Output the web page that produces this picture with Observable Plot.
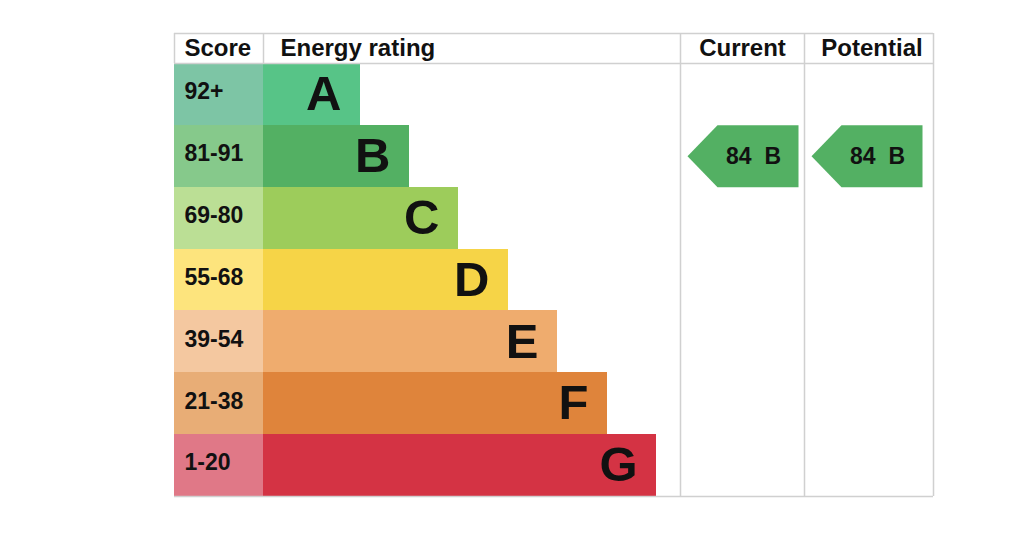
<!DOCTYPE html>
<html><head><meta charset="utf-8">
<script src="https://cdn.jsdelivr.net/npm/d3@7"></script>
<script src="https://cdn.jsdelivr.net/npm/@observablehq/plot@0.6"></script>
<style>html,body{margin:0;padding:0;background:#fff;}</style>
</head><body><div id="chart"></div>
<script>
// ---- data ----
const ratings = ["A","B","C","D","E","F","G"];
const scoreRanges = ["92+","81-91","69-80","55-68","39-54","21-38","1-20"];
const scoreMins = [92,81,69,55,39,21,1];
const barWidths = [97,146,195,245,294,344,393];
const barColors = ["#57c487","#53b063","#9dcc5b","#f6d447","#efac6e","#df843b","#d43344"];
const scoreColors = ["#7dc5a5","#86c98b","#bbdf95","#fde47d","#f4c8a0","#e8ad76","#e07887"];
const headers = ["Score","Energy rating","Current","Potential"];
const currentScore = 84;
const potentialScore = 84;

// ---- layout ----
const W = 1024, H = 538;
const tableLeft = 174, barStart = 263, colCurrent = 680, colPotential = 804, tableRight = 933;
const headerTop = -0.485;
const font = "Liberation Sans, Arial, Helvetica, sans-serif";
const lineColor = "#d0d0d0";

const rows = ratings.map((r, i) => ({
  i, rating: r, range: scoreRanges[i], width: barWidths[i],
  bar: barColors[i], score: scoreColors[i]
}));

const ratingIndex = s => scoreMins.findIndex(m => s >= m);

const arrowCols = [
  {name: "Current", left: colCurrent, value: currentScore},
  {name: "Potential", left: colPotential, value: potentialScore}
];
const arrowPts = [];
const arrowLabels = [];
for (const c of arrowCols) {
  const k = ratingIndex(c.value);
  const tip = c.left + 7, notch = tip + 30, right = tip + 111;
  const pts = [[tip, k + 0.5], [notch, k], [right, k], [right, k + 1], [notch, k + 1]];
  pts.forEach(([x, y]) => arrowPts.push({z: c.name, x, y, color: barColors[k]}));
  arrowLabels.push({x: tip + 64, y: k + 0.5, text: String(c.value), anchor: "end"});
  arrowLabels.push({x: tip + 77, y: k + 0.5, text: ratings[k], anchor: "start"});
}

const headerItems = [
  {text: headers[0], x: tableLeft + 10, anchor: "start"},
  {text: headers[1], x: barStart + 17, anchor: "start"},
  {text: headers[2], x: (colCurrent + colPotential) / 2, anchor: "middle"},
  {text: headers[3], x: (colPotential + tableRight) / 2 + 3, anchor: "middle"}
];

const hRules = [
  {y: headerTop, x1: tableLeft, x2: tableRight},
  {y: 0, x1: tableLeft, x2: tableRight},
  {y: ratings.length, x1: tableLeft, x2: tableRight}
];
const vRules = [
  {x: tableLeft, y1: headerTop, y2: 0},
  {x: barStart, y1: headerTop, y2: 0},
  {x: colCurrent, y1: headerTop, y2: ratings.length},
  {x: colPotential, y1: headerTop, y2: ratings.length},
  {x: tableRight, y1: headerTop, y2: ratings.length}
];

const chart = Plot.plot({
  width: W, height: H,
  marginTop: 0, marginRight: 0, marginBottom: 0, marginLeft: 0,
  style: {background: "#fff", fontFamily: font},
  x: {type: "linear", domain: [0, W], range: [0, W], axis: null},
  y: {type: "linear", domain: [headerTop, ratings.length], range: [33, 496], axis: null},
  marks: [
    Plot.rect(rows, {x1: tableLeft, x2: barStart, y1: d => d.i, y2: d => d.i + 1, fill: d => d.score, shapeRendering: "crispEdges"}),
    Plot.rect(rows, {x1: barStart, x2: d => barStart + d.width, y1: d => d.i, y2: d => d.i + 1, fill: d => d.bar, shapeRendering: "crispEdges"}),
    Plot.text(rows, {x: tableLeft + 10, y: d => d.i + 0.46, text: d => d.range, textAnchor: "start", fontSize: 23, fontWeight: "bold", fill: "#111"}),
    Plot.text(rows, {x: d => barStart + d.width - 19, y: d => d.i + 0.5, text: d => d.rating, textAnchor: "end", fontSize: 49, fontWeight: "bold", fill: "#111"}),
    Plot.line(arrowPts, {x: "x", y: "y", z: "z", fill: d => d.color, stroke: null, curve: "linear-closed"}),
    Plot.text(arrowLabels.filter(d => d.anchor === "end"), {x: "x", y: "y", text: "text", textAnchor: "end", fontSize: 23, fontWeight: "bold", fill: "#111"}),
    Plot.text(arrowLabels.filter(d => d.anchor === "start"), {x: "x", y: "y", text: "text", textAnchor: "start", fontSize: 23, fontWeight: "bold", fill: "#111"}),
    Plot.text(headerItems.filter(d => d.anchor === "start"), {x: "x", y: headerTop / 2, text: "text", textAnchor: "start", fontSize: 24, fontWeight: "bold", fill: "#111"}),
    Plot.text(headerItems.filter(d => d.anchor === "middle"), {x: "x", y: headerTop / 2, text: "text", textAnchor: "middle", fontSize: 24, fontWeight: "bold", fill: "#111"}),
    Plot.ruleY(hRules, {y: "y", x1: "x1", x2: "x2", stroke: lineColor, strokeWidth: 1.5}),
    Plot.ruleX(vRules, {x: "x", y1: "y1", y2: "y2", stroke: lineColor, strokeWidth: 1.5})
  ]
});
document.getElementById("chart").appendChild(chart);
</script>
</body></html>
